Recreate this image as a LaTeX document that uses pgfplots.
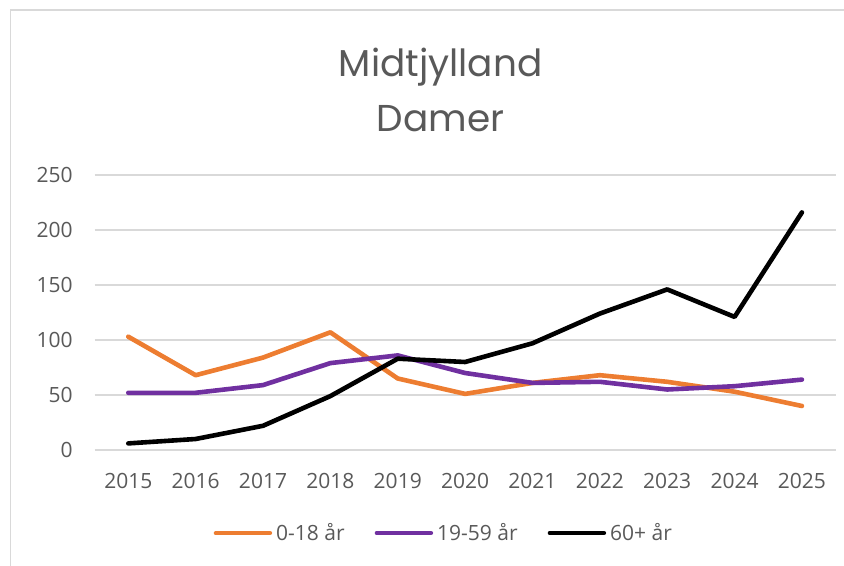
\documentclass[border=0pt]{standalone}
\usepackage{fontspec}
\setmainfont{Open Sans}
\newfontfamily\titlefont{Poppins}
\usepackage{pgfplots}
\pgfplotsset{compat=1.18}
\definecolor{cOrange}{HTML}{ED7D31}
\definecolor{cPurple}{HTML}{7030A0}
\definecolor{cGrid}{HTML}{D9D9D9}
\definecolor{cText}{HTML}{595959}
\begin{document}
\begin{tikzpicture}
\path[use as bounding box] (-47.3pt,-58pt) rectangle (374.7pt,225pt);
\draw[cGrid, line width=0.75pt] (-42pt,-60pt) -- (-42pt,220pt) -- (380pt,220pt);
\begin{axis}[
  at={(0,0)}, anchor=south west,
  scale only axis, width=370.5pt, height=137.5pt,
  xmin=2014.5, xmax=2025.5, ymin=0, ymax=250,
  xtick={2015,2016,...,2025}, ytick={0,50,...,250},
  xticklabel style={/pgf/number format/1000 sep={}},
  /pgf/number format/assume math mode=true,
  axis line style={draw=none},
  major tick length=0pt,
  ymajorgrids, major grid style={cGrid, line width=0.75pt},
  ticklabel style={font=\fontsize{10.5}{12}\selectfont, color=cText, inner sep=0pt},
  xticklabel style={anchor=center, yshift=-15.5pt},
  yticklabel style={anchor=east, xshift=-10.8pt},
  clip=false,
  legend columns=3,
  legend style={draw=none, fill=none, at={(0.4726,-0.302)}, anchor=center,
    font=\fontsize{10.5}{12}\selectfont, text=cText,
    /tikz/every even column/.append style={column sep=13pt}},
  legend image code/.code={\draw[#1, line width=2.25pt, line cap=round] (0pt,0pt) -- (27pt,0pt);},
  every axis plot/.append style={line width=2.3pt, line join=round, line cap=round},
]
\addplot[cOrange, mark=none] coordinates {(2015,103) (2016,68) (2017,84) (2018,107) (2019,65) (2020,51) (2021,61) (2022,68) (2023,62) (2024,53) (2025,40)};
\addlegendentry{0-18 år}
\addplot[cPurple, mark=none] coordinates {(2015,52) (2016,52) (2017,59) (2018,79) (2019,86) (2020,70) (2021,61) (2022,62) (2023,55) (2024,58) (2025,64)};
\addlegendentry{19-59 år}
\addplot[black, mark=none] coordinates {(2015,6) (2016,10) (2017,22) (2018,49) (2019,83) (2020,80) (2021,97) (2022,124) (2023,146) (2024,121) (2025,216)};
\addlegendentry{60+ år}
\node[font=\titlefont\fontsize{18.7}{27.5}\selectfont, color=cText, align=center] at (axis description cs:0.467,1.309) {Midtjylland\\Damer};
\end{axis}
\end{tikzpicture}
\end{document}
